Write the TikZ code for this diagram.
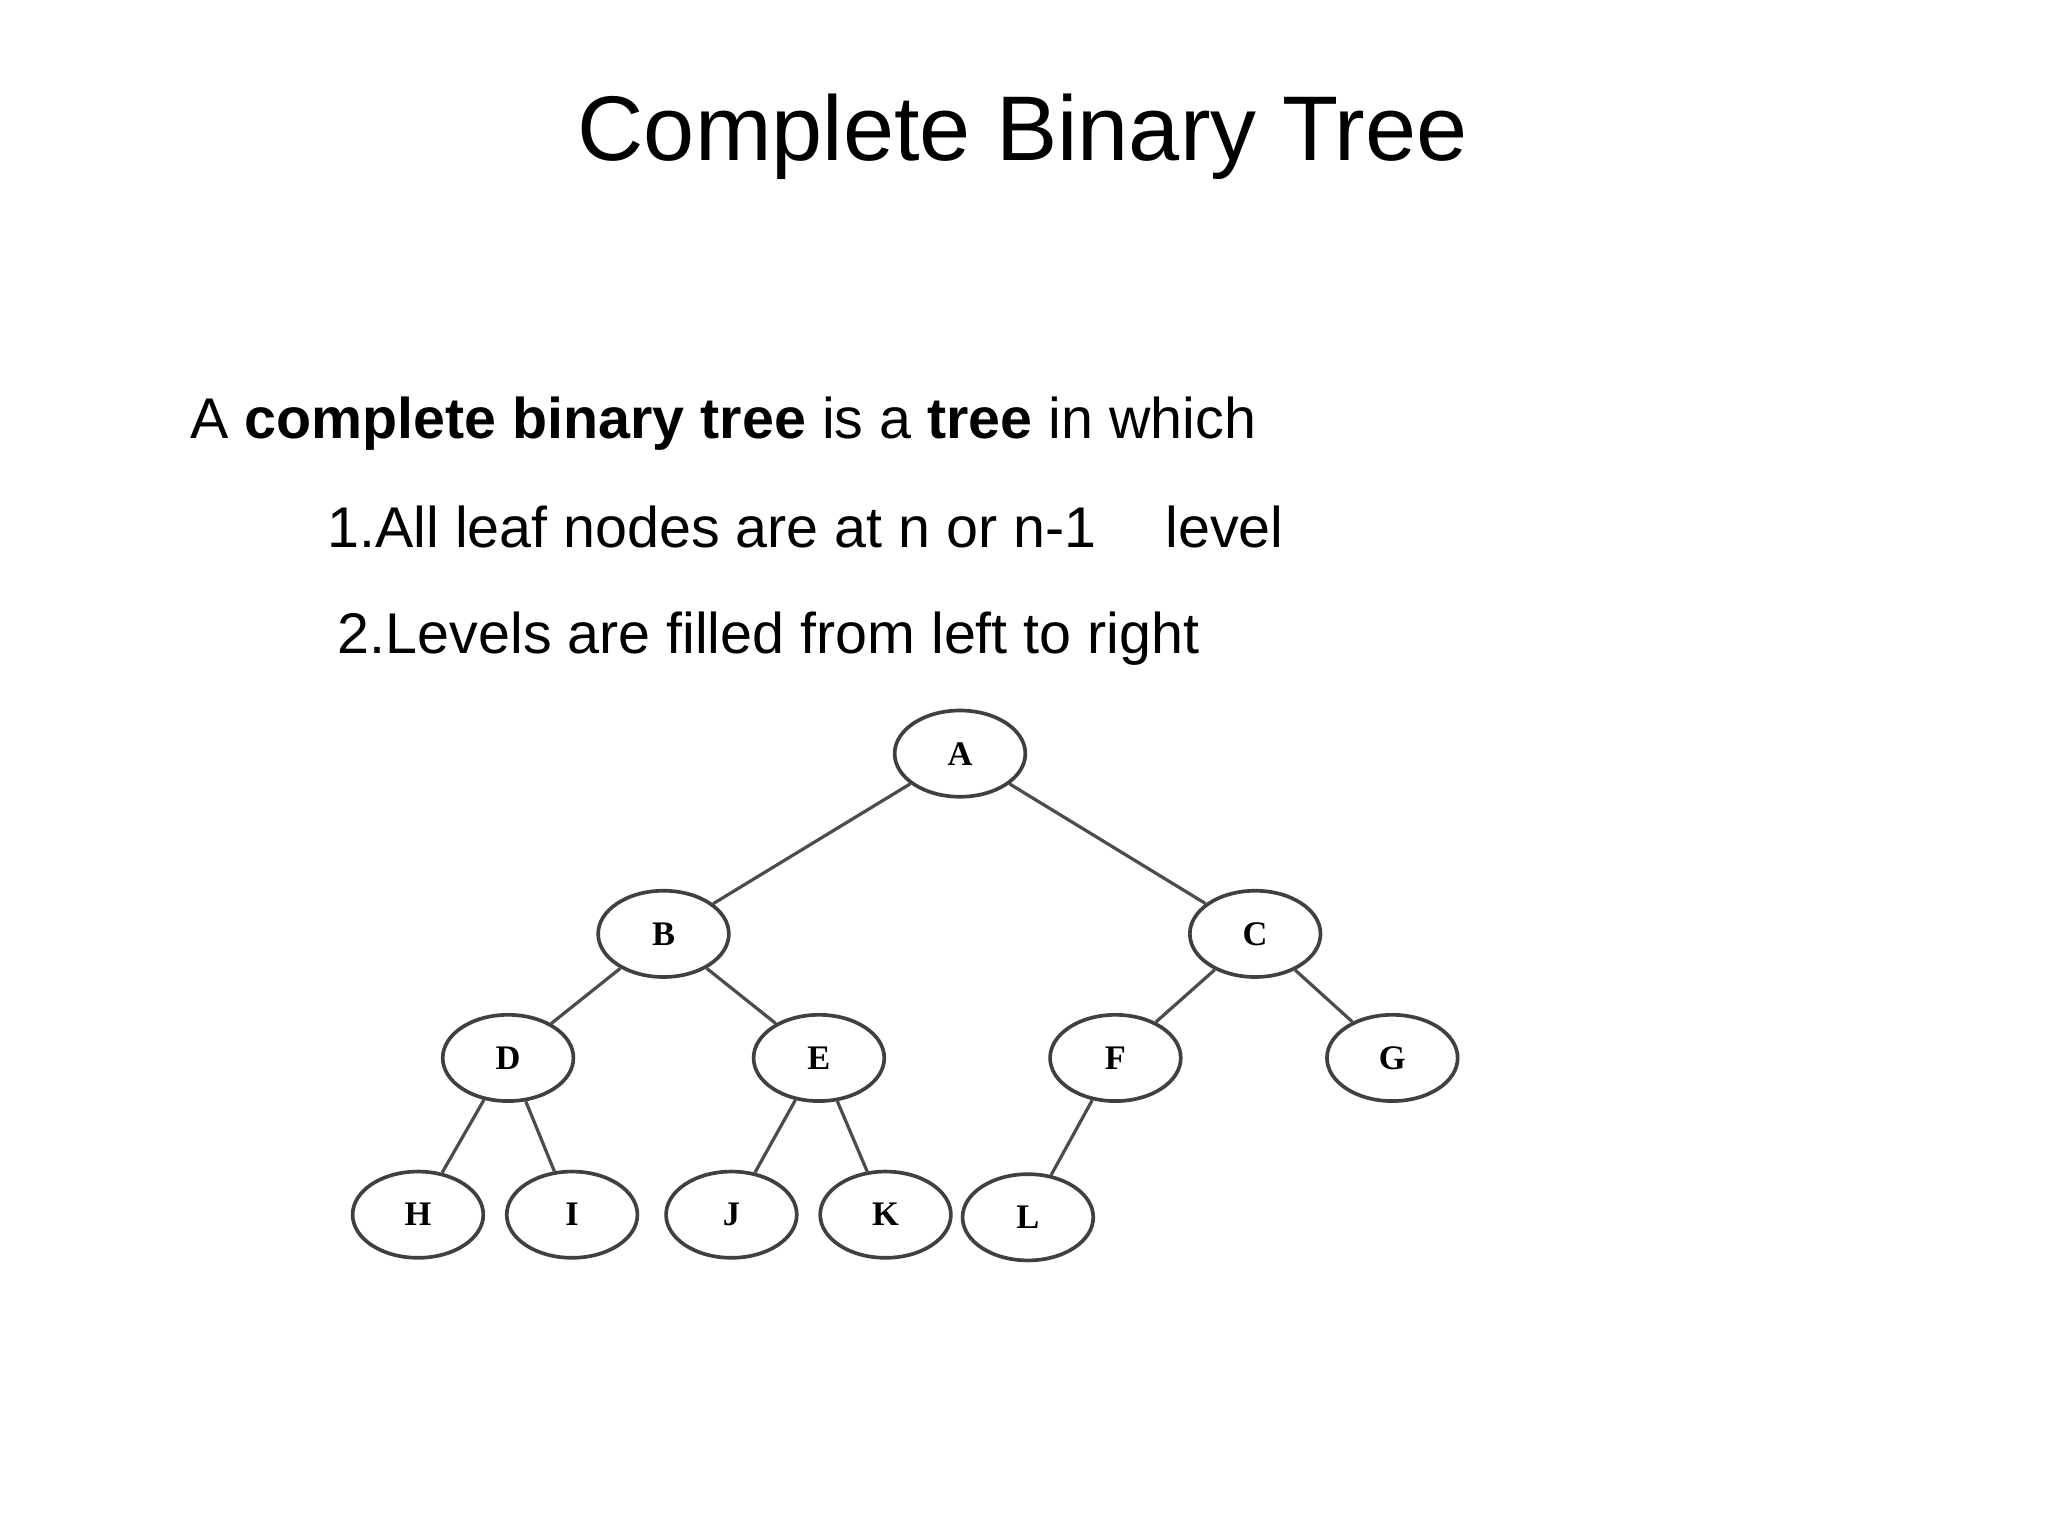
\documentclass[tikz,border=0pt]{standalone}
\usepackage{fontspec}
\setmainfont{Liberation Sans}
\newfontfamily\treefont{Liberation Serif}
\usetikzlibrary{shapes.geometric}
\begin{document}
\begin{tikzpicture}[x=0.01cm,y=-0.01cm,
  tn/.style={ellipse,draw=black!75,line width=0.8pt,minimum width=1cm,minimum height=0.66cm,inner sep=0pt,font=\treefont\fontsize{7.5}{9}\selectfont\bfseries},
  edge/.style={draw=black!70,line width=0.7pt},
  body/.style={anchor=base west,inner sep=0pt,font=\fontsize{12.5}{15}\selectfont}]
\useasboundingbox (0,0) rectangle (1568,1176);
\node[font=\fontsize{20}{24}\selectfont,inner sep=0pt] (title) at (783,105) {Complete Binary Tree};
\node[body] (l1) at (145,336) {A \textbf{complete binary tree} is a \textbf{tree} in which};
\node[body] (l2) at (250,419) {1.All leaf nodes are at n or n-1\hspace{1.2em}level};
\node[body] (l3) at (258,500) {2.Levels are filled from left to right};
\node[tn] (A) at (735,577) {A};
\node[tn] (B) at (508,715) {B};
\node[tn] (C) at (961,715) {C};
\node[tn] (D) at (389,810) {D};
\node[tn] (E) at (627,810) {E};
\node[tn] (F) at (854,810) {F};
\node[tn] (G) at (1066,810) {G};
\node[tn] (H) at (320,930) {H};
\node[tn] (I) at (438,930) {I};
\node[tn] (J) at (560,930) {J};
\node[tn] (K) at (678,930) {K};
\node[tn] (L) at (787,932) {L};
\foreach \a/\b in {A/B,A/C,B/D,B/E,C/F,C/G,D/H,D/I,E/J,E/K,F/L}
  \draw[edge] (\a) -- (\b);
\end{tikzpicture}
\end{document}
